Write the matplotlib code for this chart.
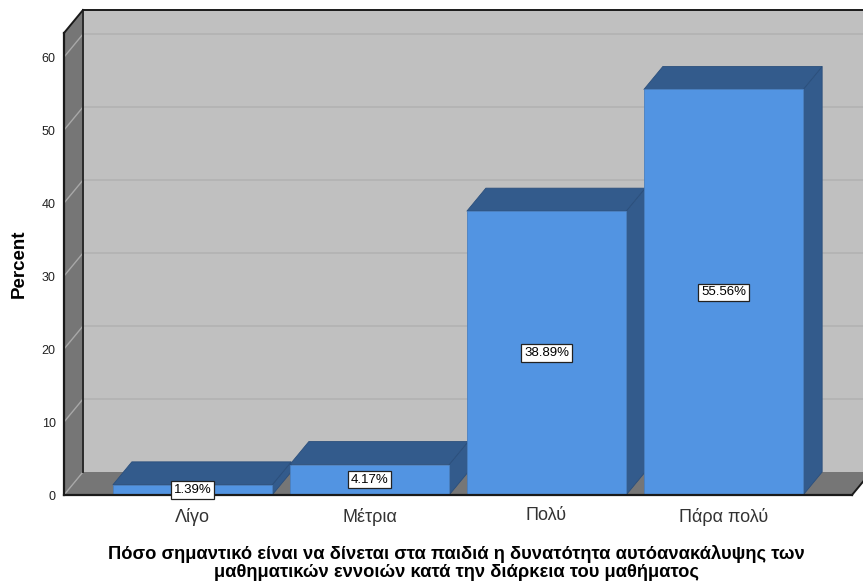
import matplotlib
matplotlib.use("Agg")
import matplotlib.pyplot as plt
from matplotlib.patches import Polygon, Rectangle

plt.rcParams['font.family'] = ['Liberation Sans', 'DejaVu Sans']

categories = ["Λίγο", "Μέτρια", "Πολύ", "Πάρα πολύ"]
percents = [1.39, 4.17, 38.89, 55.56]
yticks = [0, 10, 20, 30, 40, 50, 60]
xlabel = ("Πόσο σημαντικό είναι να δίνεται στα παιδιά η δυνατότητα αυτόανακάλυψης των\n"
          "μαθηματικών εννοιών κατά την διάρκεια του μαθήματος")

W, H = 863, 584
fig = plt.figure(figsize=(W / 100, H / 100), dpi=100)
# front plane of the 3D box, in pixels
L, R, B, T = 64, 852, 495, 33
ax = fig.add_axes([L / W, 1 - B / H, (R - L) / W, (B - T) / H])

xmin, xmax = -0.726, 3.726
ymin, ymax = 0, 63.3
ax.set_xlim(xmin, xmax)
ax.set_ylim(ymin, ymax)

# depth offset of the box (data units)
px_x = (xmax - xmin) / (R - L)
px_y = (ymax - ymin) / (B - T)
dx = 19 * px_x
dy = 23 * px_y

wall = "#c0c0c0"
side = "#767676"
front_c = "#5294e2"
dark_c = "#335b8c"

def poly(pts, fc, ec="none", lw=0, z=1):
    ax.add_patch(Polygon(pts, closed=True, facecolor=fc, edgecolor=ec,
                         linewidth=lw, zorder=z, clip_on=False))

# back wall
poly([(xmin + dx, dy), (xmax + dx, dy), (xmax + dx, ymax + dy), (xmin + dx, ymax + dy)], wall, z=1)
# grid on back wall
for v in yticks[1:]:
    ax.plot([xmin + dx, xmax + dx], [v + dy, v + dy], color="#b2b2b2", lw=1.2,
            zorder=1.5, clip_on=False)
# floor
poly([(xmin, 0), (xmax, 0), (xmax + dx, dy), (xmin + dx, dy)], side, z=2)
# left wall
poly([(xmin, 0), (xmin + dx, dy), (xmin + dx, ymax + dy), (xmin, ymax)], side, z=2)
for v in yticks:
    ax.plot([xmin, xmin + dx], [v, v + dy], color="#a8a8a8", lw=1.0,
            zorder=2.5, clip_on=False)

# box edges
edge = "#1a1a1a"
ax.plot([xmin, xmin], [0, ymax], color=edge, lw=1.6, zorder=3, clip_on=False)
ax.plot([xmin + dx, xmin + dx], [dy, ymax + dy], color="#2a2a2a", lw=1.4, zorder=3, clip_on=False)
ax.plot([xmin, xmin + dx], [ymax, ymax + dy], color=edge, lw=1.4, zorder=3, clip_on=False)
ax.plot([xmin + dx, xmax + dx], [ymax + dy, ymax + dy], color=edge, lw=1.4, zorder=3, clip_on=False)
ax.plot([xmin, xmax], [0, 0], color=edge, lw=1.6, zorder=6, clip_on=False)
ax.plot([xmax, xmax + dx], [0, dy], color=edge, lw=1.4, zorder=6, clip_on=False)

# 3D bars
bw = 0.45
for i, v in enumerate(percents):
    x0, x1 = i - bw, i + bw
    poly([(x1, 0), (x1 + dx, dy), (x1 + dx, v + dy), (x1, v)], dark_c, "#2b4f7c", 0.6, z=4)
    poly([(x0, v), (x1, v), (x1 + dx, v + dy), (x0 + dx, v + dy)], dark_c, "#2b4f7c", 0.6, z=4)
    ax.add_patch(Rectangle((x0, 0), 2 * bw, v, facecolor=front_c, edgecolor="#4a80c0",
                           linewidth=0.6, zorder=4.5))
    ax.text(i, v / 2, f"{v:.2f}%", ha="center", va="center", fontsize=9.5, color="black",
            zorder=7, bbox=dict(boxstyle="square,pad=0.2", facecolor="white",
                                edgecolor="#222222", linewidth=0.9))

for s in ax.spines.values():
    s.set_visible(False)
ax.set_xticks(range(len(categories)))
ax.set_xticklabels(categories, fontsize=13, color="#333333")
ax.set_yticks(yticks)
ax.set_yticklabels([str(t) for t in yticks], fontsize=9, color="#222222")
ax.tick_params(axis="both", length=0)
ax.tick_params(axis="y", pad=6)
ax.tick_params(axis="x", pad=9)
ax.set_ylabel("Percent", fontsize=13.5, fontweight="bold", labelpad=10)
ax.set_facecolor("none")

# axis title below the categories
fig.text(456 / W, 1 - 545 / H, xlabel, ha="center", va="top", fontsize=13.2,
         fontweight="bold", linespacing=1.1)

fig.savefig("out.png", dpi=100)
